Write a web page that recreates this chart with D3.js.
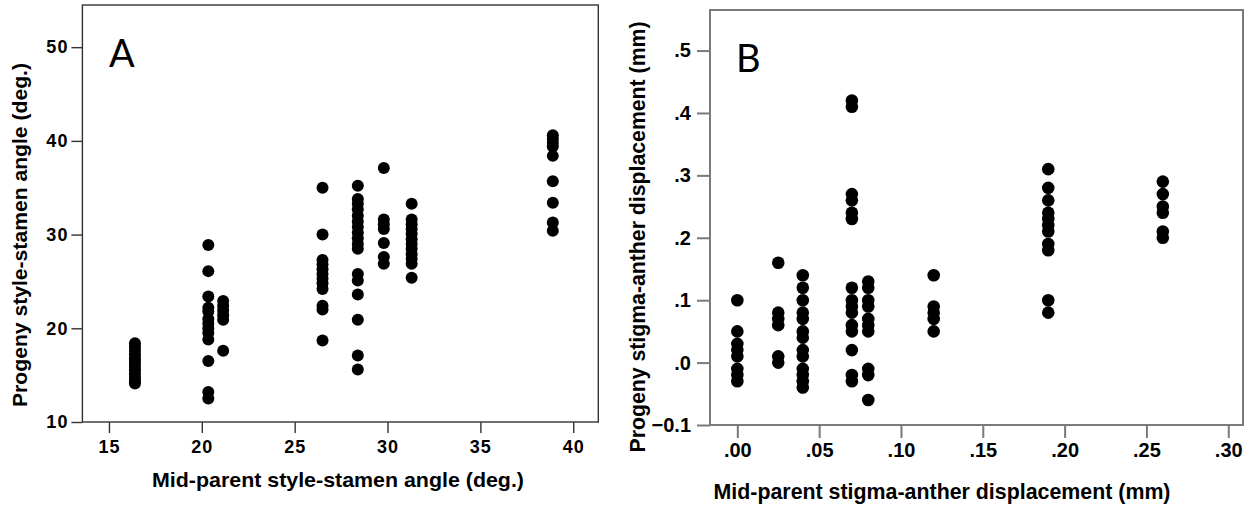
<!DOCTYPE html>
<html>
<head>
<meta charset="utf-8">
<script src="https://cdn.jsdelivr.net/npm/d3@7"></script>
<style>
  body { margin: 0; background: #fff; }
  svg { display: block; }
</style>
</head>
<body>
<svg id="chart" width="1259" height="513"></svg>
<script>
// ---- Panel A: style-stamen angle (deg.) ----
var aMidParent = [16.4, 20.35, 21.15, 26.5, 28.4, 29.8, 31.3, 38.9];
var aProgeny = [
  [18.4, 18.0, 17.6, 17.2, 16.8, 16.5, 16.2, 15.8, 15.5, 15.1, 14.7, 14.4, 14.1],
  [28.9, 26.1, 23.4, 22.2, 21.8, 21.0, 20.5, 20.0, 19.5, 18.8, 16.5, 13.2, 12.5],
  [22.9, 22.4, 21.9, 21.4, 20.9, 17.6],
  [35.0, 30.0, 27.3, 26.8, 26.3, 25.8, 25.3, 24.8, 24.2, 22.4, 22.0, 18.7],
  [35.2, 33.8, 33.3, 32.7, 32.0, 31.4, 30.8, 30.2, 29.6, 29.0, 28.5, 25.8, 25.1, 23.6, 20.9, 17.1, 15.6],
  [37.1, 31.6, 31.1, 30.6, 29.1, 27.6, 26.9],
  [33.3, 31.6, 31.1, 30.6, 30.1, 29.5, 29.0, 28.5, 27.9, 27.4, 26.9, 25.4],
  [40.6, 40.2, 39.8, 39.4, 38.4, 35.7, 33.4, 31.3, 30.4]
];
var aXTicks = [15, 20, 25, 30, 35, 40];
var aYTicks = [10, 20, 30, 40, 50];

// ---- Panel B: stigma-anther displacement (mm) ----
var bMidParent = [0.00, 0.025, 0.04, 0.07, 0.08, 0.12, 0.19, 0.26];
var bProgeny = [
  [0.10, 0.05, 0.03, 0.02, 0.01, -0.01, -0.02, -0.03],
  [0.16, 0.08, 0.07, 0.06, 0.01, 0.00],
  [0.14, 0.12, 0.10, 0.08, 0.07, 0.05, 0.04, 0.02, 0.01, -0.01, -0.02, -0.03, -0.04],
  [0.42, 0.41, 0.27, 0.26, 0.24, 0.23, 0.12, 0.10, 0.09, 0.08, 0.06, 0.05, 0.02, -0.02, -0.03],
  [0.13, 0.12, 0.10, 0.09, 0.07, 0.06, 0.05, -0.01, -0.02, -0.06],
  [0.14, 0.09, 0.08, 0.07, 0.05],
  [0.31, 0.28, 0.26, 0.24, 0.23, 0.22, 0.21, 0.19, 0.18, 0.10, 0.08],
  [0.29, 0.27, 0.25, 0.24, 0.21, 0.20]
];
var bXTicks = [0, 0.05, 0.10, 0.15, 0.20, 0.25, 0.30];
var bYTicks = [-0.1, 0, 0.1, 0.2, 0.3, 0.4, 0.5];

var svg = d3.select("#chart");
var boldFont = "'Liberation Sans', Arial, sans-serif";

// SPSS style labels: no leading zero
function noZero(fmt) {
  var f = d3.format(fmt);
  return function(d) { return f(d).replace(/^(-?)0\./, "$1."); };
}

function flatten(xs, ys) {
  var pts = [];
  xs.forEach(function(x, i) {
    ys[i].forEach(function(y) { pts.push({ x: x, y: y }); });
  });
  return pts;
}

function drawPanel(cfg) {
  var g = svg.append("g");

  // frame
  g.append("rect")
    .attr("x", cfg.x.range()[0])
    .attr("y", cfg.y.range()[1])
    .attr("width", cfg.x.range()[1] - cfg.x.range()[0])
    .attr("height", cfg.y.range()[0] - cfg.y.range()[1])
    .attr("fill", "none")
    .attr("stroke", cfg.frameColor)
    .attr("stroke-width", cfg.frameWidth);

  // y axis
  var yAxis = g.append("g")
    .attr("transform", "translate(" + cfg.x.range()[0] + ",0)")
    .call(d3.axisLeft(cfg.y).tickValues(cfg.yTicks).tickFormat(cfg.yFormat)
      .tickSize(cfg.tickSize).tickPadding(cfg.yPad));

  // x axis
  var xAxis = g.append("g")
    .attr("transform", "translate(0," + cfg.y.range()[0] + ")")
    .call(d3.axisBottom(cfg.x).tickValues(cfg.xTicks).tickFormat(cfg.xFormat)
      .tickSize(cfg.tickSize).tickPadding(cfg.xPad));

  [xAxis, yAxis].forEach(function(ax) {
    ax.select(".domain").remove();
    ax.selectAll(".tick line").attr("stroke", cfg.frameColor).attr("stroke-width", cfg.frameWidth);
    ax.selectAll(".tick text")
      .attr("fill", "#000")
      .style("font-family", boldFont)
      .style("font-weight", "bold")
      .style("font-size", cfg.tickFont + "px")
      .style("letter-spacing", cfg.tickSpacing + "px");
  });

  // dots
  g.selectAll("circle")
    .data(flatten(cfg.xs, cfg.ys))
    .enter()
    .append("circle")
    .attr("cx", function(d) { return cfg.x(d.x); })
    .attr("cy", function(d) { return cfg.y(d.y); })
    .attr("r", cfg.r)
    .attr("fill", "#000");

  // axis titles
  g.append("text")
    .attr("transform", "translate(" + cfg.yTitle.x + "," + cfg.yTitle.y + ") rotate(-90)")
    .attr("text-anchor", "middle")
    .attr("textLength", cfg.yTitle.len)
    .attr("lengthAdjust", "spacingAndGlyphs")
    .style("font-family", boldFont)
    .style("font-weight", "bold")
    .style("font-size", cfg.yTitle.size + "px")
    .text(cfg.yTitle.text);

  g.append("text")
    .attr("x", cfg.xTitle.x)
    .attr("y", cfg.xTitle.y)
    .attr("text-anchor", "middle")
    .attr("textLength", cfg.xTitle.len)
    .attr("lengthAdjust", "spacingAndGlyphs")
    .style("font-family", boldFont)
    .style("font-weight", "bold")
    .style("font-size", cfg.xTitle.size + "px")
    .text(cfg.xTitle.text);

  // panel letter
  g.append("text")
    .attr("x", cfg.letter.x)
    .attr("y", cfg.letter.y)
    .style("font-family", "Lato, 'Open Sans', sans-serif")
    .style("font-size", "38px")
    .text(cfg.letter.text);
}

drawPanel({
  x: d3.scaleLinear().domain([13.57, 41.35]).range([82.4, 598.3]),
  y: d3.scaleLinear().domain([10, 54.5]).range([422, 5]),
  xs: aMidParent, ys: aProgeny,
  xTicks: aXTicks, yTicks: aYTicks,
  xFormat: d3.format("d"), yFormat: d3.format("d"),
  frameColor: "#333", frameWidth: 1.4,
  tickSize: 11, xPad: 7, yPad: 3,
  tickFont: 18, tickSpacing: 1,
  r: 6,
  yTitle: { x: 27, y: 235, len: 344, size: 21, text: "Progeny style-stamen angle (deg.)" },
  xTitle: { x: 338, y: 487, len: 372, size: 21, text: "Mid-parent style-stamen angle (deg.)" },
  letter: { x: 109, y: 67, text: "A" }
});

drawPanel({
  x: d3.scaleLinear().domain([-0.0167, 0.309]).range([710, 1243]),
  y: d3.scaleLinear().domain([-0.1, 0.565]).range([425, 10]),
  xs: bMidParent, ys: bProgeny,
  xTicks: bXTicks, yTicks: bYTicks,
  xFormat: noZero(".2f"), yFormat: noZero(".1f"),
  frameColor: "#7a7a7a", frameWidth: 2,
  tickSize: 13, xPad: 5, yPad: 6,
  tickFont: 20, tickSpacing: 0,
  r: 6.3,
  yTitle: { x: 645, y: 237, len: 431, size: 22, text: "Progeny stigma-anther displacement (mm)" },
  xTitle: { x: 942, y: 499, len: 457, size: 22, text: "Mid-parent stigma-anther displacement (mm)" },
  letter: { x: 736, y: 72, text: "B" }
});
</script>
</body>
</html>
